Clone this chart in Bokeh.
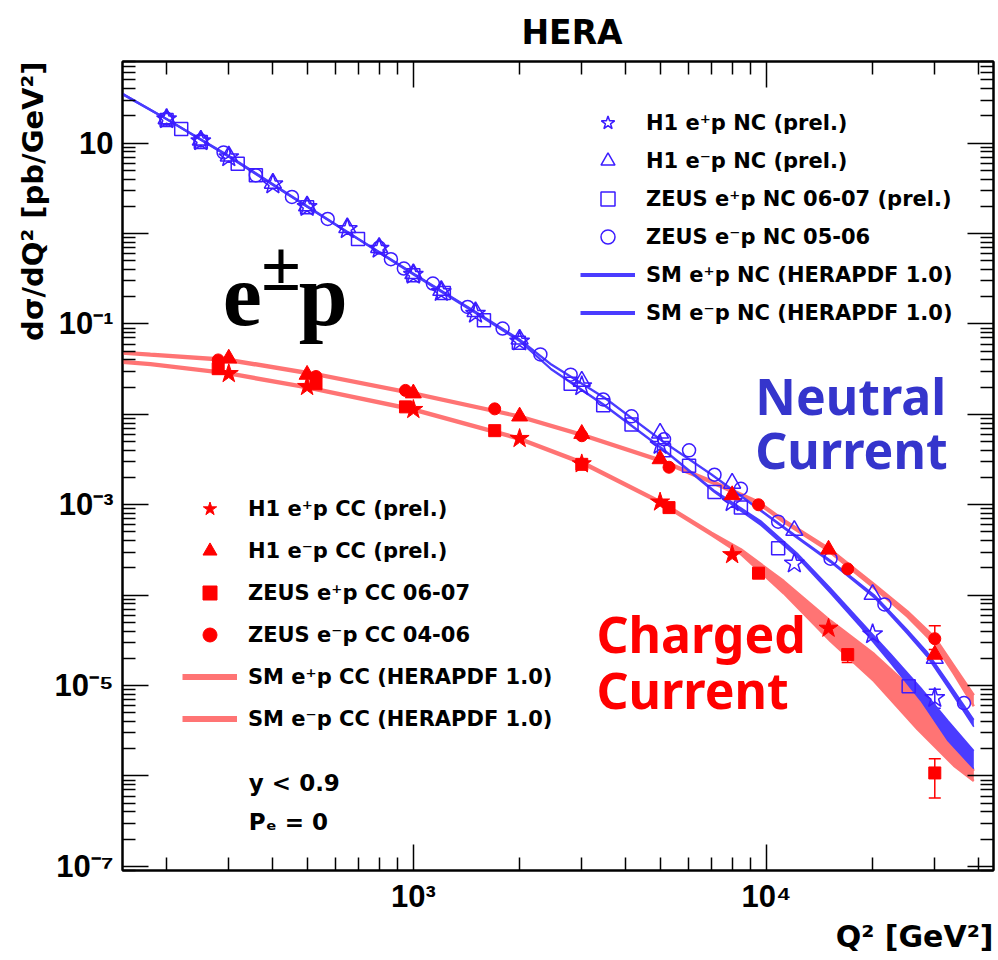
from bokeh.plotting import figure
from bokeh.models import (FixedTicker, CustomJSTickFormatter, LogAxis, Title, Legend,
                          LegendItem, Label, Whisker, ColumnDataSource, TeeHead, Range1d)
from bokeh.embed import file_html
from bokeh.resources import INLINE

# ---- NC data (open markers) ----
h1_ep_nc_q2 = [200, 250, 300, 400, 500, 650, 800, 1000, 1200, 1500, 2000, 3000, 5000, 8000, 12000, 20000, 30000]
h1_ep_nc = [18.4, 10.5, 7.0, 3.5, 1.97, 1.12, 0.68, 0.35, 0.226, 0.13, 0.064, 0.0205, 0.0046, 0.00107, 2.24e-4, 3.7e-5, 7.3e-6]
h1_em_nc_q2 = [200, 250, 300, 400, 500, 650, 800, 1000, 1200, 1500, 2000, 3000, 5000, 8000, 12000, 20000, 30000]
h1_em_nc = [18.6, 10.8, 7.2, 3.6, 2.02, 1.16, 0.70, 0.36, 0.235, 0.137, 0.068, 0.0232, 0.0062, 0.00173, 5.2e-4, 1.02e-4, 2.0e-5]
zeus_ep_nc_q2 = [200, 220, 250, 318, 358, 500, 697, 1000, 1220, 1585, 1990, 2790, 3450, 4150, 5130, 6040, 7130, 8470, 10800, 25300]
zeus_ep_nc = [18.0, 14.3, 10.3, 5.9, 4.4, 1.95, 0.87, 0.345, 0.22, 0.11, 0.062, 0.0218, 0.0126, 0.0077, 0.0040, 0.0027, 0.00138, 0.00093, 3.3e-4, 9.8e-6]
zeus_em_nc_q2 = [200, 250, 290, 358, 453, 572, 800, 864, 940, 1136, 1425, 1790, 2290, 2790, 3450, 4150, 5130, 6040, 7130, 8470, 10800, 15200, 21600, 36300]
zeus_em_nc = [18.6, 10.7, 7.9, 4.4, 2.54, 1.45, 0.70, 0.52, 0.41, 0.28, 0.154, 0.089, 0.046, 0.0275, 0.0146, 0.0095, 0.0053, 0.0040, 0.00215, 0.0015, 6.5e-4, 2.53e-4, 7.9e-5, 6.4e-6]

# ---- CC data (filled markers) ----
h1_ep_cc_q2 = [300, 500, 1000, 2000, 3000, 5000, 8000, 15000]
h1_ep_cc = [0.0282, 0.0203, 0.0113, 0.0054, 0.00283, 0.00107, 2.8e-4, 4.3e-5]
h1_em_cc_q2 = [300, 500, 1000, 2000, 3000, 5000, 8000, 15000, 30000]
h1_em_cc = [0.0415, 0.0275, 0.0171, 0.0095, 0.0061, 0.0032, 0.00128, 3.2e-4, 2.2e-5]
zeus_ep_cc_q2 = [280, 530, 950, 1700, 3000, 5300, 9500, 17000, 30000]
zeus_ep_cc = [0.032, 0.0218, 0.0121, 0.0066, 0.0028, 0.00093, 1.75e-4, 2.2e-5, 1.08e-6]
zeus_em_cc_q2 = [280, 530, 950, 1700, 3000, 5300, 9500, 17000, 30000]
zeus_em_cc = [0.040, 0.0262, 0.0184, 0.0115, 0.0058, 0.0026, 0.00100, 1.95e-4, 3.3e-5]

# visible error bars
nc_err_q2 = [30000]
nc_err_lo = [5.6e-6]
nc_err_hi = [9.1e-6]
cc_err_q2 = [17000, 30000, 30000]
cc_err_lo = [1.8e-5, 2.5e-5, 5.7e-7]
cc_err_hi = [2.6e-5, 4.6e-5, 1.55e-6]

# ---- SM (HERAPDF 1.0) bands ----
nc_ep_q2 = [150, 200, 300, 500, 700, 1000, 1500, 2000, 2450, 3460, 5100, 7100, 9660, 12300, 15200, 18500, 22500, 27400, 32700, 38700]
nc_ep_lo = [34.5, 18.2, 7.0, 1.96, 0.85, 0.35, 0.131, 0.064, 0.0315, 0.0126, 0.00405, 0.00139, 5.9e-4, 2.56e-4, 1.05e-4, 4.43e-5, 1.78e-5, 6.8e-6, 2.45e-6, 1.2e-6]
nc_ep_hi = [35.5, 18.7, 7.2, 2.0, 0.87, 0.36, 0.135, 0.066, 0.0323, 0.0130, 0.00415, 0.00145, 6.6e-4, 2.84e-4, 1.19e-4, 5.16e-5, 2.23e-5, 9.4e-6, 4.07e-6, 1.9e-6]
nc_em_q2 = [150, 200, 300, 500, 700, 1000, 1500, 2000, 2450, 3500, 5100, 7000, 9860, 12000, 15200, 20200, 25000, 28600, 33000, 38700]
nc_em_lo = [34.5, 18.3, 7.1, 1.97, 0.86, 0.355, 0.134, 0.066, 0.0355, 0.0148, 0.00493, 0.00212, 7.95e-4, 4.5e-4, 2.31e-4, 9.4e-5, 3.8e-5, 2.07e-5, 9.0e-6, 3.5e-6]
nc_em_hi = [35.5, 18.7, 7.3, 2.03, 0.88, 0.365, 0.138, 0.068, 0.0365, 0.0152, 0.00507, 0.00218, 8.25e-4, 4.7e-4, 2.43e-4, 1.01e-4, 4.2e-5, 2.33e-5, 1.04e-5, 4.2e-6]
cc_ep_q2 = [150, 180, 300, 496, 1000, 1990, 3020, 5000, 7000, 8470, 11200, 15200, 20200, 26800, 34000, 38700]
cc_ep_lo = [0.0372, 0.0352, 0.0277, 0.0195, 0.0110, 0.00527, 0.00282, 0.00104, 4.6e-4, 2.84e-4, 1.05e-4, 3.1e-5, 1.12e-5, 3.3e-6, 1.30e-6, 8.8e-7]
cc_ep_hi = [0.0388, 0.0368, 0.0291, 0.0205, 0.0116, 0.00553, 0.00298, 0.00110, 4.9e-4, 3.22e-4, 1.43e-4, 5.2e-5, 2.23e-5, 8.1e-6, 2.64e-6, 1.14e-6]
cc_em_q2 = [150, 180, 300, 537, 1000, 1990, 3020, 5000, 7000, 9500, 11200, 15000, 20200, 25100, 30000, 34000, 38700]
cc_em_lo = [0.047, 0.0447, 0.039, 0.0268, 0.0167, 0.0093, 0.00577, 0.00302, 0.00175, 1.02e-3, 6.4e-4, 3.08e-4, 1.2e-4, 5.8e-5, 2.85e-5, 1.35e-5, 5.9e-6]
cc_em_hi = [0.049, 0.0467, 0.041, 0.0282, 0.0175, 0.0097, 0.00603, 0.00318, 0.00185, 1.08e-3, 6.8e-4, 3.32e-4, 1.32e-4, 6.6e-5, 3.4e-5, 1.65e-5, 7.8e-6]

# ---- ticks ----
x_tick_values = [1e3, 1e4]
x_tick_labels = ["10³", "10⁴"]
y_tick_values = [1e-7, 1e-6, 1e-5, 1e-4, 1e-3, 1e-2, 1e-1, 1, 10]
y_tick_labels = ["10⁻⁷", " ", "10⁻⁵", " ", "10⁻³", " ", "10⁻¹", " ", "10"]
x_minor = [m * 10 ** k for k in (2, 3, 4) for m in range(2, 10) if 150 <= m * 10 ** k <= 44000]
y_minor = [m * 10.0 ** k for k in range(-8, 2) for m in range(2, 10) if 9e-8 <= m * 10.0 ** k <= 80]

MBLUE = "#3b1cff"
LBLUE = "#4a3cff"
RED = "#ff0000"
SALMON = "#ff7474"
FONT = "DejaVu Sans"
TICKFONT = "Liberation Sans"

p = figure(width=996, height=958, x_axis_type="log", y_axis_type="log",
           x_range=Range1d(150, 44000), y_range=Range1d(9e-8, 80),
           output_backend="svg", toolbar_location=None,
           min_border_left=122, min_border_right=3, min_border_top=59, min_border_bottom=88)
p.xgrid.visible = False
p.ygrid.visible = False
p.outline_line_color = "black"
p.outline_line_width = 2

p.title.text = "HERA"
p.title.text_font = FONT
p.title.text_font_size = "33px"
p.title.text_font_style = "bold"
p.title.text_color = "black"
p.title.align = "left"
p.title.offset = 399
p.title.standoff = 20

fmt_code = """
let best = 0, d = 1e9;
for (let i = 0; i < vals.length; i++) {
  const dd = Math.abs(Math.log10(tick) - Math.log10(vals[i]));
  if (dd < d) { d = dd; best = i; }
}
return d < 0.01 ? labs[best] : " ";
"""
xticker = FixedTicker(ticks=x_tick_values, minor_ticks=x_minor)
yticker = FixedTicker(ticks=y_tick_values, minor_ticks=y_minor)


def style(ax):
    ax.axis_line_width = 2
    ax.axis_line_color = "black"
    ax.major_tick_in = 26
    ax.major_tick_out = 0
    ax.minor_tick_in = 13
    ax.minor_tick_out = 0
    ax.major_tick_line_width = 1.5
    ax.minor_tick_line_width = 1.5
    ax.major_tick_line_color = "black"
    ax.minor_tick_line_color = "black"
    ax.major_label_text_font = TICKFONT
    ax.major_label_text_font_style = "bold"
    ax.major_label_text_font_size = "31px"
    ax.major_label_text_color = "black"


xa = p.xaxis[0]
xa.ticker = xticker
xa.formatter = CustomJSTickFormatter(args=dict(vals=x_tick_values, labs=x_tick_labels), code=fmt_code)
style(xa)
xa.major_label_standoff = 8
ya = p.yaxis[0]
ya.ticker = yticker
ya.formatter = CustomJSTickFormatter(args=dict(vals=y_tick_values, labs=y_tick_labels), code=fmt_code)
style(ya)
ya.major_label_standoff = 9

top_ax = LogAxis(ticker=xticker)
right_ax = LogAxis(ticker=yticker)
for ax in (top_ax, right_ax):
    style(ax)
    ax.formatter = CustomJSTickFormatter(code="return ' ';")
    ax.major_label_text_font_size = "2px"
    ax.major_label_standoff = -10
p.add_layout(top_ax, "above")
p.add_layout(right_ax, "right")

p.add_layout(Title(text="dσ/dQ² [pb/GeV²]", align="right", text_font=FONT, text_color="black",
                   text_font_style="bold", text_font_size="29px", standoff=4), "left")
p.add_layout(Title(text="Q² [GeV²]", align="right", text_font=FONT, text_color="black",
                   text_font_style="bold", text_font_size="30px", standoff=0), "below")

# theory bands
for q2, lo, hi, col, lw in [(cc_ep_q2, cc_ep_lo, cc_ep_hi, SALMON, 2.5),
                            (cc_em_q2, cc_em_lo, cc_em_hi, SALMON, 2.5),
                            (nc_ep_q2, nc_ep_lo, nc_ep_hi, LBLUE, 1.5),
                            (nc_em_q2, nc_em_lo, nc_em_hi, LBLUE, 1.5)]:
    p.varea(x=q2, y1=lo, y2=hi, fill_color=col)
    p.line(q2, lo, line_color=col, line_width=lw)
    p.line(q2, hi, line_color=col, line_width=lw)

# error bars
nc_err = ColumnDataSource(dict(x=nc_err_q2, lo=nc_err_lo, hi=nc_err_hi))
cc_err = ColumnDataSource(dict(x=cc_err_q2, lo=cc_err_lo, hi=cc_err_hi))
for src, col in [(nc_err, MBLUE), (cc_err, RED)]:
    p.add_layout(Whisker(source=src, base="x", lower="lo", upper="hi", line_color=col, line_width=1.5,
                         upper_head=TeeHead(size=12, line_color=col, line_width=1.5),
                         lower_head=TeeHead(size=12, line_color=col, line_width=1.5)))

# NC points
r1 = p.scatter(h1_ep_nc_q2, h1_ep_nc, marker="star", size=21, fill_color=None, line_color=MBLUE, line_width=1.5)
r2 = p.scatter(h1_em_nc_q2, h1_em_nc, marker="triangle", size=17, fill_color=None, line_color=MBLUE, line_width=1.5)
r3 = p.scatter(zeus_ep_nc_q2, zeus_ep_nc, marker="square", size=13, fill_color=None, line_color=MBLUE, line_width=1.5)
r4 = p.scatter(zeus_em_nc_q2, zeus_em_nc, marker="circle", size=13, fill_color=None, line_color=MBLUE, line_width=1.5)
# CC points
c1 = p.scatter(h1_ep_cc_q2, h1_ep_cc, marker="star", size=20, fill_color=RED, line_color=RED)
c2 = p.scatter(h1_em_cc_q2, h1_em_cc, marker="triangle", size=16, fill_color=RED, line_color=RED)
c3 = p.scatter(zeus_ep_cc_q2, zeus_ep_cc, marker="square", size=12, fill_color=RED, line_color=RED)
c4 = p.scatter(zeus_em_cc_q2, zeus_em_cc, marker="circle", size=12, fill_color=RED, line_color=RED)

# legend-only line samples (kept outside the visible range)
l_nc = p.line([10, 20], [1e-9, 1e-9], line_color=LBLUE, line_width=4)
l_cc = p.line([10, 20], [1e-9, 1e-9], line_color=SALMON, line_width=6)


def make_legend(items, loc, spacing):
    return Legend(items=items, location=loc, glyph_width=55, glyph_height=35, spacing=spacing,
                  label_standoff=11, padding=0, margin=0, border_line_alpha=0,
                  background_fill_alpha=0, label_text_font=FONT, label_text_font_style="bold",
                  label_text_font_size="21px", label_text_color="black")


p.add_layout(make_legend([
    LegendItem(label="H1 e⁺p NC (prel.)", renderers=[r1]),
    LegendItem(label="H1 e⁻p NC (prel.)", renderers=[r2]),
    LegendItem(label="ZEUS e⁺p NC 06-07 (prel.)", renderers=[r3]),
    LegendItem(label="ZEUS e⁻p NC 05-06", renderers=[r4]),
    LegendItem(label="SM e⁺p NC (HERAPDF 1.0)", renderers=[l_nc]),
    LegendItem(label="SM e⁻p NC (HERAPDF 1.0)", renderers=[l_nc]),
], (458, 540), 3))
p.add_layout(make_legend([
    LegendItem(label="H1 e⁺p CC (prel.)", renderers=[c1]),
    LegendItem(label="H1 e⁻p CC (prel.)", renderers=[c2]),
    LegendItem(label="ZEUS e⁺p CC 06-07", renderers=[c3]),
    LegendItem(label="ZEUS e⁻p CC 04-06", renderers=[c4]),
    LegendItem(label="SM e⁺p CC (HERAPDF 1.0)", renderers=[l_cc]),
    LegendItem(label="SM e⁻p CC (HERAPDF 1.0)", renderers=[l_cc]),
], (60, 134), 7))


# annotations
def lab(x, y, text, size, color="black", font=FONT):
    p.add_layout(Label(x=x, y=y, text=text, text_font=font, text_font_style="bold",
                       text_font_size=size, text_color=color, text_baseline="alphabetic"))


lab(288.6, 0.204, "e", "88px", font="Liberation Serif")
lab(371, 0.44, "±", "72px", font="Liberation Serif")
lab(473.8, 0.204, "p", "88px", font="Liberation Serif")
lab(9300, 0.0161, "Neutral", "50px", color="#3535cc", font="Noto Sans")
lab(9300, 0.0040, "Current", "50px", color="#3535cc", font="Noto Sans")
lab(3300, 3.75e-5, "Charged", "50px", color=RED, font="Noto Sans")
lab(3300, 8.85e-6, "Current", "50px", color=RED, font="Noto Sans")
lab(342, 8.4e-7, "y < 0.9", "23px")
lab(342, 3.12e-7, "Pₑ = 0", "23px")

open("out.html", "w").write(file_html(p, INLINE))
